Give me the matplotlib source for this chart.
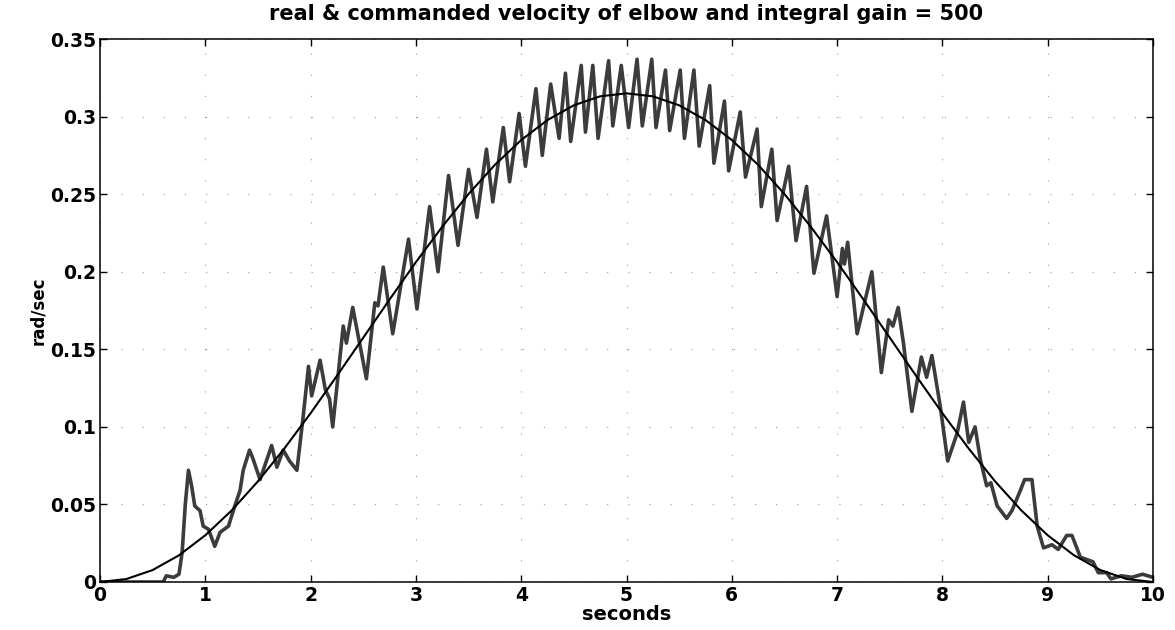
import numpy as np
import matplotlib.pyplot as plt

# ---------------- DADOS ----------------

# velocidade comandada (rad/sec) amostrada a cada 0.25 s
t_cmd = [0.0, 0.25, 0.5, 0.75, 1.0, 1.25, 1.5, 1.75, 2.0, 2.25, 2.5, 2.75, 3.0, 3.25,
         3.5, 3.75, 4.0, 4.25, 4.5, 4.75, 5.0, 5.25, 5.5, 5.75, 6.0, 6.25, 6.5, 6.75,
         7.0, 7.25, 7.5, 7.75, 8.0, 8.25, 8.5, 8.75, 9.0, 9.25, 9.5, 9.75, 10.0]
v_cmd = [0.0, 0.0019, 0.0077, 0.0172, 0.0301, 0.0461, 0.0649, 0.0860, 0.1088, 0.1329,
         0.1575, 0.1821, 0.2062, 0.2290, 0.2501, 0.2689, 0.2849, 0.2978, 0.3073, 0.3131,
         0.3150, 0.3131, 0.3073, 0.2978, 0.2849, 0.2689, 0.2501, 0.2290, 0.2062, 0.1821,
         0.1575, 0.1329, 0.1088, 0.0860, 0.0649, 0.0461, 0.0301, 0.0172, 0.0077, 0.0019, 0.0]

# velocidade real medida do cotovelo (picos e vales)
t_real = [0.00, 0.60, 0.63, 0.70, 0.75, 0.78, 0.81, 0.84, 0.87, 0.90, 0.95, 0.98, 1.03,
          1.09, 1.14, 1.22, 1.28, 1.33, 1.36, 1.42, 1.45, 1.52, 1.63, 1.68, 1.74, 1.80,
          1.87, 1.93, 1.98, 2.01, 2.09, 2.14, 2.18, 2.21, 2.31, 2.34, 2.40, 2.53, 2.61,
          2.64, 2.69, 2.78, 2.93, 3.01, 3.13, 3.21, 3.31, 3.40, 3.50, 3.58, 3.67, 3.73,
          3.83, 3.89, 3.98, 4.04, 4.14, 4.20, 4.28, 4.36, 4.42, 4.47, 4.57, 4.61, 4.68,
          4.73, 4.83, 4.87, 4.95, 5.02, 5.10, 5.15, 5.24, 5.28, 5.37, 5.41, 5.51, 5.55,
          5.64, 5.69, 5.79, 5.83, 5.93, 5.97, 6.08, 6.13, 6.24, 6.28, 6.38, 6.43, 6.54,
          6.61, 6.71, 6.78, 6.90, 7.00, 7.05, 7.07, 7.10, 7.19, 7.33, 7.42, 7.49, 7.53,
          7.58, 7.63, 7.71, 7.80, 7.85, 7.90, 7.98, 8.05, 8.14, 8.20, 8.25, 8.31, 8.36,
          8.42, 8.46, 8.52, 8.61, 8.66, 8.74, 8.78, 8.85, 8.90, 8.96, 9.04, 9.10, 9.18,
          9.23, 9.31, 9.43, 9.48, 9.56, 9.60, 9.70, 9.80, 9.90, 10.00]
v_real = [0.000, 0.000, 0.004, 0.003, 0.005, 0.019, 0.050, 0.072, 0.062, 0.049, 0.046,
          0.036, 0.034, 0.023, 0.032, 0.036, 0.049, 0.059, 0.072, 0.085, 0.080, 0.066,
          0.088, 0.074, 0.085, 0.078, 0.072, 0.107, 0.139, 0.120, 0.143, 0.124, 0.118,
          0.100, 0.165, 0.154, 0.177, 0.131, 0.180, 0.178, 0.203, 0.160, 0.221, 0.176,
          0.242, 0.200, 0.262, 0.217, 0.266, 0.235, 0.279, 0.245, 0.293, 0.258, 0.302,
          0.268, 0.318, 0.275, 0.321, 0.286, 0.328, 0.284, 0.333, 0.290, 0.333, 0.286,
          0.336, 0.294, 0.333, 0.293, 0.337, 0.294, 0.337, 0.293, 0.330, 0.291, 0.330,
          0.286, 0.330, 0.281, 0.320, 0.270, 0.310, 0.265, 0.303, 0.261, 0.292, 0.242,
          0.279, 0.233, 0.268, 0.220, 0.255, 0.199, 0.236, 0.184, 0.215, 0.205, 0.219,
          0.160, 0.200, 0.135, 0.169, 0.165, 0.177, 0.154, 0.110, 0.145, 0.132, 0.146,
          0.113, 0.078, 0.096, 0.116, 0.090, 0.100, 0.079, 0.062, 0.064, 0.049, 0.041,
          0.046, 0.059, 0.066, 0.066, 0.036, 0.022, 0.024, 0.021, 0.030, 0.030, 0.016,
          0.013, 0.006, 0.006, 0.002, 0.004, 0.003, 0.005, 0.003]

xticks = [0, 1, 2, 3, 4, 5, 6, 7, 8, 9, 10]
yticks = [0, 0.05, 0.1, 0.15, 0.2, 0.25, 0.3, 0.35]
ytick_labels = ["0", "0.05", "0.1", "0.15", "0.2", "0.25", "0.3", "0.35"]

# ---------------- GRAFICO ----------------

plt.rcParams['font.family'] = ['DejaVu Sans']
plt.rcParams['font.weight'] = 'bold'

fig = plt.figure(figsize=(11.75, 6.3), dpi=100)
ax = fig.add_axes([0.0851, 0.0762, 0.8962, 0.8618])

ax.plot(t_real, v_real, color='#3c3c3c', linewidth=2.6)
ax.plot(t_cmd, v_cmd, color='black', linewidth=1.5)

ax.set_xlim(0, 10)
ax.set_ylim(0, 0.35)
ax.set_xticks(xticks)
ax.set_yticks(yticks)
ax.set_yticklabels(ytick_labels)
ax.tick_params(direction='in', length=5, width=1, labelsize=13.5, pad=3,
               top=True, right=True)

# grade pontilhada do matlab (bem apagada)
ax.grid(True, color='#999999', linestyle=(0, (1, 18)), linewidth=0.8)

for s in ax.spines.values():
    s.set_linewidth(1.1)

ax.set_title("real & commanded velocity of elbow and integral gain = 500",
             fontsize=15, fontweight='bold', pad=14)
ax.set_xlabel("seconds", fontsize=14, fontweight='bold', labelpad=0)
ax.set_ylabel("rad/sec", fontsize=12, fontweight='bold', labelpad=2)

plt.savefig("out.png", dpi=100)
